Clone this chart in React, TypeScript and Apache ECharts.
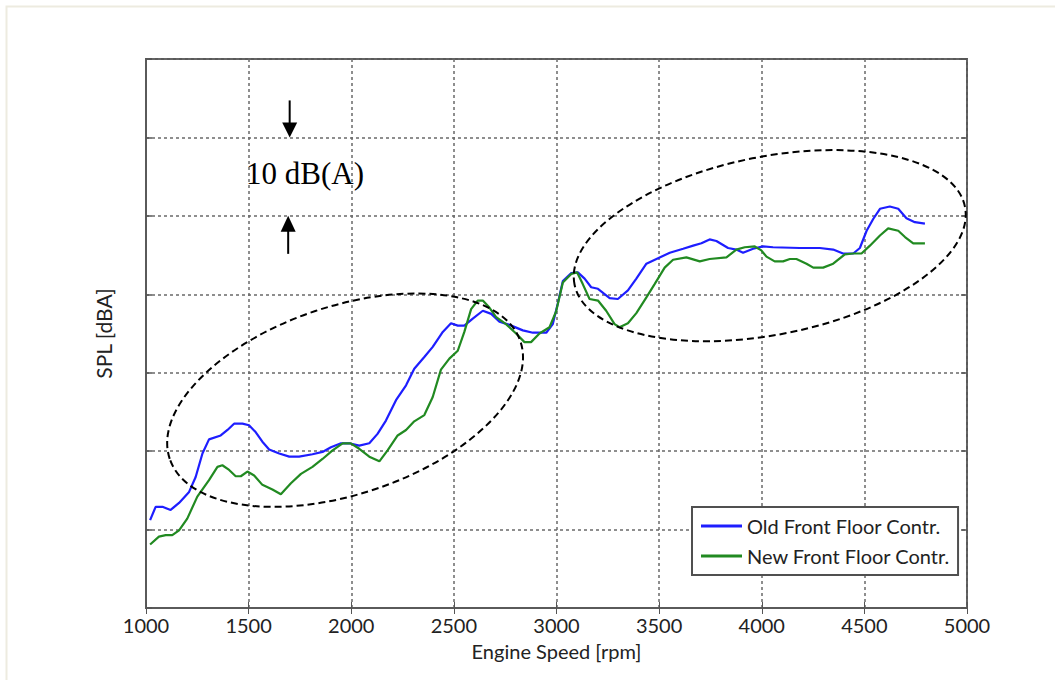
import React, { useEffect, useRef } from "react";
import * as echarts from "echarts";

// Old Front Floor Contr. (blue)
const rpmOld = [1020, 1047, 1080, 1120, 1161, 1210, 1242, 1275, 1307, 1364, 1397, 1429, 1470, 1502, 1535, 1567, 1600, 1649, 1698, 1746, 1811, 1860, 1901, 1950, 1990, 2039, 2088, 2128, 2169, 2218, 2267, 2307, 2356, 2397, 2446, 2486, 2519, 2551, 2592, 2641, 2682, 2722, 2771, 2836, 2885, 2950, 2982, 3006, 3031, 3072, 3104, 3137, 3169, 3202, 3259, 3299, 3348, 3389, 3438, 3487, 3552, 3617, 3666, 3706, 3746, 3779, 3836, 3876, 3909, 3958, 4006, 4055, 4185, 4283, 4348, 4396, 4446, 4478, 4511, 4543, 4576, 4624, 4665, 4705, 4746, 4795];
const splOld = [11.2, 12.9, 12.9, 12.5, 13.4, 14.8, 16.7, 19.7, 21.5, 22.0, 22.7, 23.5, 23.5, 23.3, 22.4, 21.2, 20.2, 19.7, 19.3, 19.3, 19.6, 19.9, 20.5, 21.0, 21.0, 20.7, 21.0, 22.2, 23.9, 26.5, 28.4, 30.5, 32.0, 33.3, 35.2, 36.3, 36.0, 36.0, 36.9, 37.9, 37.5, 36.5, 36.1, 35.4, 35.1, 35.1, 36.2, 38.8, 41.7, 42.7, 42.8, 42.0, 40.9, 40.7, 39.5, 39.4, 40.5, 42.0, 43.9, 44.5, 45.3, 45.8, 46.2, 46.5, 47.0, 46.8, 45.9, 45.7, 45.3, 45.8, 46.1, 46.0, 45.9, 45.9, 45.7, 45.2, 45.2, 45.9, 48.1, 49.6, 50.9, 51.2, 50.9, 49.7, 49.2, 49.0];

// New Front Floor Contr. (green)
const rpmNew = [1020, 1063, 1096, 1128, 1161, 1201, 1250, 1307, 1348, 1372, 1405, 1437, 1462, 1494, 1527, 1567, 1616, 1657, 1706, 1755, 1811, 1860, 1909, 1958, 1998, 2039, 2088, 2137, 2177, 2226, 2267, 2307, 2356, 2397, 2437, 2478, 2519, 2551, 2584, 2616, 2641, 2673, 2706, 2754, 2803, 2844, 2876, 2917, 2966, 2998, 3031, 3072, 3100, 3128, 3161, 3202, 3242, 3283, 3307, 3348, 3389, 3438, 3478, 3527, 3568, 3633, 3698, 3746, 3828, 3876, 3917, 3966, 3998, 4023, 4063, 4104, 4137, 4169, 4218, 4251, 4299, 4348, 4405, 4446, 4486, 4527, 4576, 4616, 4665, 4698, 4738, 4795];
const splNew = [8.1, 9.1, 9.3, 9.3, 9.9, 11.4, 14.2, 16.3, 18.0, 18.2, 17.6, 16.8, 16.8, 17.4, 16.9, 15.7, 15.1, 14.5, 15.9, 17.1, 18.0, 19.0, 20.1, 21.0, 21.0, 20.3, 19.3, 18.7, 20.1, 22.0, 22.7, 23.8, 24.6, 26.9, 30.4, 31.8, 32.8, 35.2, 38.1, 39.2, 39.2, 38.3, 37.1, 36.2, 35.0, 33.9, 33.9, 35.0, 35.8, 37.8, 41.5, 42.6, 42.8, 41.3, 39.4, 39.2, 37.9, 36.2, 35.8, 36.3, 37.6, 39.6, 41.3, 43.4, 44.4, 44.7, 44.2, 44.5, 44.7, 45.7, 46.0, 46.1, 45.6, 44.8, 44.2, 44.2, 44.5, 44.5, 43.9, 43.4, 43.4, 43.9, 45.1, 45.2, 45.2, 46.2, 47.5, 48.4, 48.1, 47.3, 46.5, 46.5];

const seriesNames = ["Old Front Floor Contr.", "New Front Floor Contr."];
const xMin = 1000;
const xMax = 5000;
const xStep = 500;
const yMin = 0;
const yMax = 70;
const yStep = 10;

// annotation anchors in data coordinates
const arrowRpm = 1700;
const arrowTop = 60;
const arrowBottom = 50;
const labelRpm = 1775;
const labelSpl = 55.4;
const leftEllipse = { rpm: 1970, spl: 26.5 };
const rightEllipse = { rpm: 4039, spl: 46.2 };

const SANS = "Lato";

export default function App() {
  const ref = useRef<HTMLDivElement>(null);
  useEffect(() => {
    document.body.style.margin = "0";
    const chart = echarts.init(ref.current!, null, { renderer: "svg" });
    const gridColor = "#6a6a6a";
    const axisCommon = {
      type: "value",
      min: xMin,
      max: xMax,
      interval: xStep,
    };
    chart.setOption({
      animation: false,
      backgroundColor: "#fff",
      grid: {
        left: 146,
        right: 88,
        top: 59,
        bottom: 72,
        show: true,
        borderColor: "#5a5a5a",
        borderWidth: 2,
      },
      legend: {
        orient: "vertical",
        left: 692,
        top: 507,
        backgroundColor: "#fff",
        borderColor: "#505050",
        borderWidth: 2,
        padding: [9, 8, 9, 9],
        icon: "rect",
        itemWidth: 41,
        itemHeight: 3,
        itemGap: 10,
        textStyle: { fontFamily: SANS, fontSize: 20, color: "#222" },
        data: seriesNames,
      },
      xAxis: [
        {
          ...axisCommon,
          position: "bottom",
          name: "Engine Speed [rpm]",
          nameLocation: "middle",
          nameGap: 33,
          nameTextStyle: { fontFamily: SANS, fontSize: 20, color: "#222" },
          axisLine: { show: true, lineStyle: { color: "#5a5a5a", width: 2 } },
          axisTick: { show: true, inside: true, length: 6, lineStyle: { color: "#555", width: 1 } },
          axisLabel: {
            fontFamily: SANS,
            fontSize: 20,
            color: "#222",
            margin: 7,
            formatter: (v: number) => String(v),
          },
          splitLine: { show: true, lineStyle: { color: gridColor, width: 1.5, type: [3, 3] } },
        },
        {
          ...axisCommon,
          position: "top",
          axisLine: { show: false },
          axisTick: { show: true, inside: true, length: 6, lineStyle: { color: "#555", width: 1 } },
          axisLabel: { show: false },
          splitLine: { show: false },
        },
      ],
      yAxis: [
        {
          type: "value",
          min: yMin,
          max: yMax,
          interval: yStep,
          position: "left",
          name: "SPL [dBA]",
          nameLocation: "middle",
          nameGap: 32,
          nameRotate: 90,
          nameTextStyle: { fontFamily: SANS, fontSize: 21, color: "#222" },
          axisLine: { show: true, lineStyle: { color: "#5a5a5a", width: 2 } },
          axisTick: { show: true, inside: true, length: 6, lineStyle: { color: "#555", width: 1.5 } },
          axisLabel: { show: false },
          splitLine: { show: true, lineStyle: { color: gridColor, width: 1.5, type: [3, 3] } },
        },
        {
          type: "value",
          min: yMin,
          max: yMax,
          interval: yStep,
          position: "right",
          axisLine: { show: false },
          axisTick: { show: true, inside: true, length: 6, lineStyle: { color: "#555", width: 1.5 } },
          axisLabel: { show: false },
          splitLine: { show: false },
        },
      ],
      series: [
        {
          name: seriesNames[0],
          type: "line",
          symbol: "none",
          data: rpmOld.map((r, i) => [r, splOld[i]]),
          lineStyle: { color: "#1e1eff", width: 2.2 },
          itemStyle: { color: "#1e1eff" },
          z: 3,
        },
        {
          name: seriesNames[1],
          type: "line",
          symbol: "none",
          data: rpmNew.map((r, i) => [r, splNew[i]]),
          lineStyle: { color: "#218a21", width: 2.2 },
          itemStyle: { color: "#218a21" },
          z: 3,
        },
      ],
    });

    const px = (x: number, y: number) => chart.convertToPixel({ xAxisIndex: 0, yAxisIndex: 0 }, [x, y]) as number[];
    const tipDown = px(arrowRpm, arrowTop);
    const tipUp = px(arrowRpm, arrowBottom);
    const lab = px(labelRpm, labelSpl);
    const eL = px(leftEllipse.rpm, leftEllipse.spl);
    const eR = px(rightEllipse.rpm, rightEllipse.spl);
    const ellipseStyle = { fill: "none", stroke: "#000", lineWidth: 2, lineDash: [7, 4] };

    chart.setOption({
      graphic: [
        {
          type: "rect",
          silent: true,
          z: -1,
          shape: { x: 6.5, y: 6.5, width: 1200, height: 800 },
          style: { fill: "none", stroke: "#edebe0", lineWidth: 2 },
        },
        {
          type: "ellipse",
          x: eL[0],
          y: eL[1],
          rotation: 0.323,
          shape: { cx: 0, cy: 0, rx: 185, ry: 94 },
          style: ellipseStyle,
          z: 10,
        },
        {
          type: "ellipse",
          x: eR[0],
          y: eR[1],
          rotation: 0.196,
          shape: { cx: 0, cy: 0, rx: 199, ry: 89 },
          style: ellipseStyle,
          z: 10,
        },
        {
          type: "line",
          shape: { x1: tipDown[0], y1: tipDown[1] - 37, x2: tipDown[0], y2: tipDown[1] - 14 },
          style: { stroke: "#000", lineWidth: 2 },
          z: 10,
        },
        {
          type: "polygon",
          shape: {
            points: [
              [tipDown[0] - 7.5, tipDown[1] - 15],
              [tipDown[0] + 7.5, tipDown[1] - 15],
              [tipDown[0], tipDown[1]],
            ],
          },
          style: { fill: "#000" },
          z: 10,
        },
        {
          type: "line",
          shape: { x1: tipUp[0] - 1.5, y1: tipUp[1] + 14, x2: tipUp[0] - 1.5, y2: tipUp[1] + 38 },
          style: { stroke: "#000", lineWidth: 2 },
          z: 10,
        },
        {
          type: "polygon",
          shape: {
            points: [
              [tipUp[0] - 9, tipUp[1] + 16],
              [tipUp[0] + 6, tipUp[1] + 16],
              [tipUp[0] - 1.5, tipUp[1]],
            ],
          },
          style: { fill: "#000" },
          z: 10,
        },
        {
          type: "text",
          x: lab[0],
          y: lab[1],
          style: {
            text: "10 dB(A)",
            fontFamily: "Liberation Serif",
            fontSize: 31,
            fill: "#000",
            align: "center",
            verticalAlign: "middle",
          },
          z: 10,
        },
      ],
    });
    return () => chart.dispose();
  }, []);
  return <div ref={ref} style={{ width: 1055, height: 680 }} />;
}
